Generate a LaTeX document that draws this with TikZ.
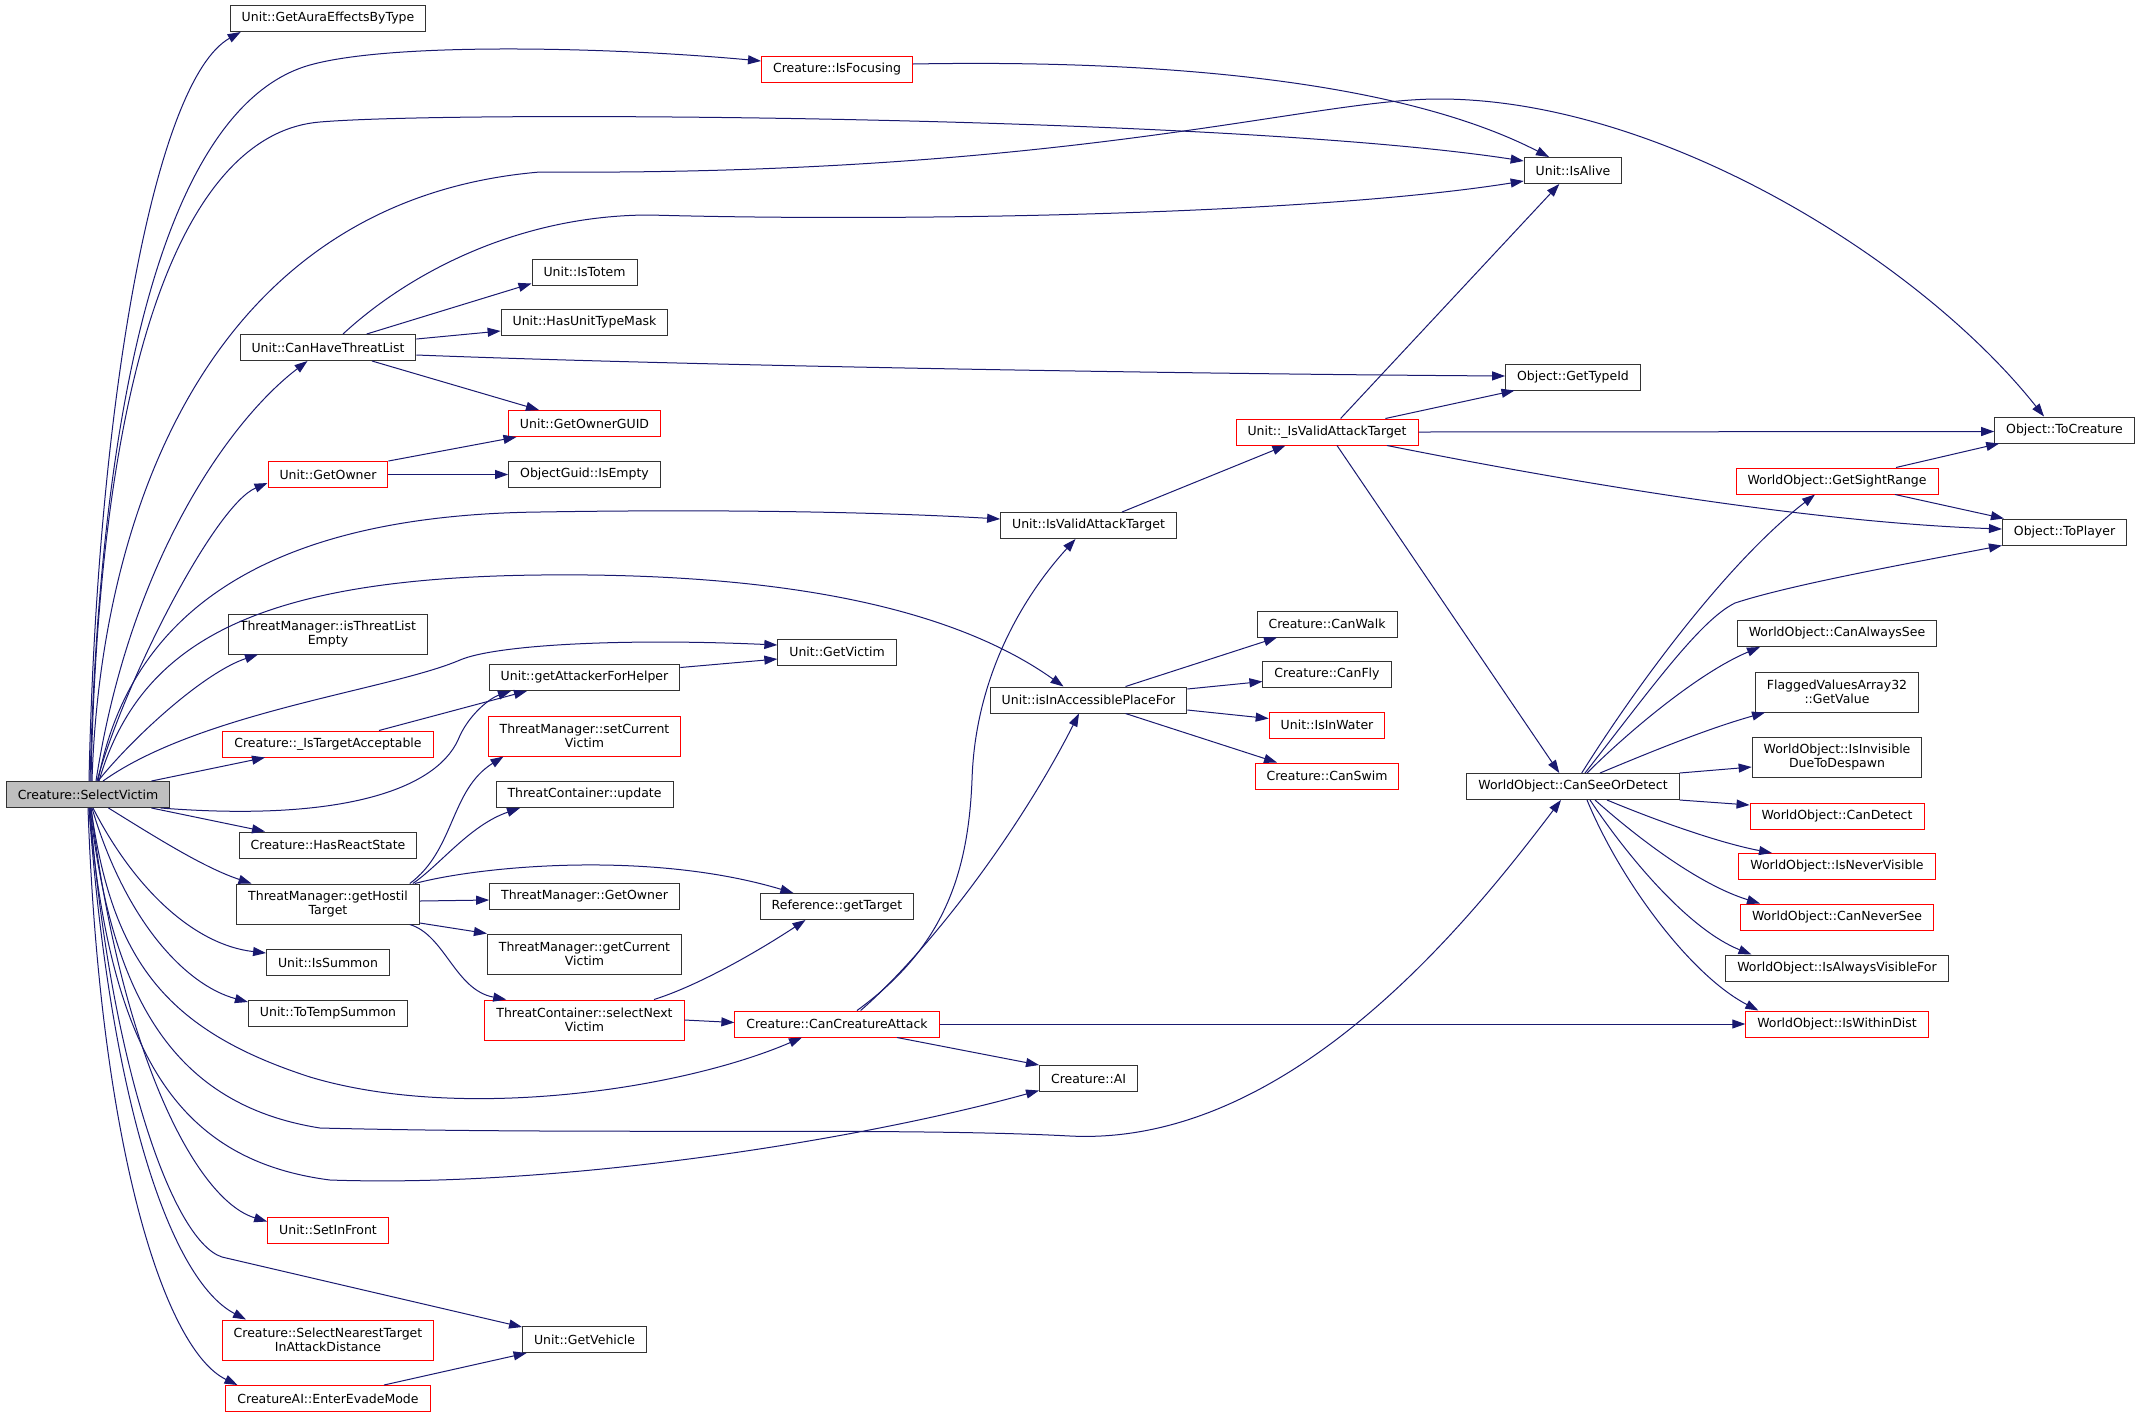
\documentclass[tikz,border=0pt]{standalone}
\usepackage{fontspec}
\setmainfont{DejaVu Sans}
\usetikzlibrary{arrows.meta, positioning}

\definecolor{edgeblue}{HTML}{191970}
\definecolor{rootgray}{HTML}{BFBFBF}

\begin{document}
\begin{tikzpicture}[x = 1pt, y = -1pt,
    fn/.style={draw=black!80, fill=white, line width=1pt, inner xsep=11.5pt, inner ysep=2pt,
        minimum height=26pt, align=center, font=\fontsize{12.5}{14.3}\selectfont},
    fnred/.style={fn, draw=red},
    fnroot/.style={fn, fill=rootgray},
    twolines/.style={minimum height=40pt},
    call/.style={color=edgeblue, line width=1pt, -{Triangle[length=13pt, width=9pt]}}]

        \path[fill=white] (0,0) rectangle (2140,1417);

        \node[fnroot] (selvictim) at (88,794.5) {Creature::SelectVictim};

        \foreach \n/\x/\y/\txt in {aura/328/18.5/Unit::GetAuraEffectsByType,
            alive/1573/170.5/Unit::IsAlive, tocre/2064.5/430/Object::ToCreature,
            haslist/328/347.5/Unit::CanHaveThreatList, totem/584.5/272/Unit::IsTotem,
            mask/584.5/322.5/Unit::HasUnitTypeMask, empty/584.5/474.5/ObjectGuid::IsEmpty,
            typeid/1573/377/Object::GetTypeId, toplayer/2064.5/532/Object::ToPlayer,
            valid/1088.5/525.5/Unit::IsValidAttackTarget, victim/837/652/Unit::GetVictim,
            helper/584.5/677.5/Unit::getAttackerForHelper, access/1088.5/700/Unit::isInAccessiblePlaceFor,
            walk/1327/624/Creature::CanWalk, fly/1327/674.5/Creature::CanFly,
            update/584.5/794.5/ThreatContainer::update, react/328/845/Creature::HasReactState,
            tmowner/584.5/896/ThreatManager::GetOwner, gettarget/837/906.5/Reference::getTarget,
            summon/328/962.5/Unit::IsSummon, tempsummon/328/1013/Unit::ToTempSummon,
            ai/1088.5/1078.5/Creature::AI, seeordetect/1573/786.5/WorldObject::CanSeeOrDetect,
            alwayssee/1837/633.5/WorldObject::CanAlwaysSee, alwaysvis/1837/968/WorldObject::IsAlwaysVisibleFor,
            vehicle/584.5/1339.5/Unit::GetVehicle}
        \node[fn] (\n) at (\x,\y) {\txt};

        \foreach \n/\x/\y/\txt in {focus/837/69.5/Creature::IsFocusing,
            guid/584.5/423.5/Unit::GetOwnerGUID, owner/328/474.5/Unit::GetOwner,
            ivalid/1327/432/Unit::\_IsValidAttackTarget, sight/1837/481/WorldObject::GetSightRange,
            water/1327/725/Unit::IsInWater, swim/1327/776/Creature::CanSwim,
            accept/328/744/Creature::\_IsTargetAcceptable, attack/837/1024/Creature::CanCreatureAttack,
            detect/1837/816/WorldObject::CanDetect, nevervis/1837/866.5/WorldObject::IsNeverVisible,
            neversee/1837/917/WorldObject::CanNeverSee, withindist/1837/1024/WorldObject::IsWithinDist,
            infront/328/1230/Unit::SetInFront, evade/328/1398.5/CreatureAI::EnterEvadeMode}
        \node[fnred] (\n) at (\x,\y) {\txt};

        \node[fn, twolines] (listempty) at (328,634) {ThreatManager::isThreatList\\Empty};
        \node[fn, twolines] (hostil) at (328,904) {ThreatManager::getHostil\\Target};
        \node[fn, twolines] (curvictim) at (584.5,954) {ThreatManager::getCurrent\\Victim};
        \node[fn, twolines] (flagged) at (1837,692) {FlaggedValuesArray32\\::GetValue};
        \node[fn, twolines] (despawn) at (1837,757) {WorldObject::IsInvisible\\DueToDespawn};
        \node[fnred, twolines] (setvictim) at (584.5,736) {ThreatManager::setCurrent\\Victim};
        \node[fnred, twolines] (nextvictim) at (584.5,1020) {ThreatContainer::selectNext\\Victim};
        \node[fnred, twolines] (nearest) at (328,1340) {Creature::SelectNearestTarget\\InAttackDistance};

        \draw[call] ([xshift=1pt]selvictim.north) .. controls (97,400) and (155,80) .. ([xshift=11pt]aura.south west);
        \draw[call] ([xshift=2pt]selvictim.north) .. controls (102,330) and (185,100) .. (310,65)
            .. controls (392,42) and (610,47) .. ([yshift=8.5pt]focus.west);
        \draw[call] ([xshift=3pt]selvictim.north) .. controls (100,330) and (195,132) .. (320,122)
            .. controls (460,110) and (1230,116) .. ([yshift=9.5pt]alive.west);
        \draw[call] ([xshift=4pt]selvictim.north) .. controls (100,520) and (205,200) .. (540,172)
            .. controls (1070,176) and (1310,99) .. (1439,99)
            .. controls (1660,99) and (1920,260) .. ([xshift=-20.5pt]tocre.north);
        \draw[call] ([xshift=8pt]selvictim.north) .. controls (130,560) and (230,420) .. ([xshift=-20.5pt]haslist.south);
        \draw[call] ([xshift=9pt]selvictim.north) .. controls (125,680) and (215,505) .. ([yshift=-8.5pt]owner.west);
        \draw[call] ([xshift=10pt]selvictim.north) .. controls (130,610) and (270,515) .. (540,512)
            .. controls (720,509) and (880,512) .. ([yshift=6.5pt]valid.west);
        \draw[call] ([xshift=11pt]selvictim.north) .. controls (140,640) and (260,578) .. (540,575)
            .. controls (820,572) and (970,620) .. ([xshift=-25pt]access.north);
        \draw[call] ([xshift=10pt]selvictim.north) .. controls (135,735) and (205,672) .. ([xshift=-70pt]listempty.south);
        \draw[call] ([xshift=15pt]selvictim.north) .. controls (200,712) and (390,690) .. (460,660)
            .. controls (495,645) and (620,638) .. ([yshift=7pt]victim.west);
        \draw[call] ([xshift=63.5pt]selvictim.north) -- ([xshift=-63pt]accept.south);
        \draw[call] ([xshift=-9.5pt]selvictim.south east) .. controls (340,822) and (435,790) .. (458,740)
            .. controls (468,715) and (490,698) .. ([xshift=-73.5pt]helper.south);
        \draw[call] ([xshift=63.5pt]selvictim.south) -- ([xshift=-63pt]react.north);
        \draw[call] ([xshift=20.5pt]selvictim.south) .. controls (160,840) and (205,868) .. ([xshift=-76.5pt]hostil.north);
        \draw[call] ([xshift=5pt]selvictim.south) .. controls (135,890) and (195,945) .. ([yshift=9.5pt]summon.west);
        \draw[call] ([xshift=4pt]selvictim.south) .. controls (125,920) and (185,985) .. ([yshift=11pt]tempsummon.west);
        \draw[call] ([xshift=3pt]selvictim.south) .. controls (112,960) and (165,1030) .. (310,1077)
            .. controls (460,1122) and (680,1090) .. ([xshift=-35pt]attack.south);
        \draw[call] ([xshift=2pt]selvictim.south) .. controls (112,1000) and (175,1105) .. (320,1128)
            .. controls (600,1135) and (900,1127) .. (1070,1136)
            .. controls (1290,1147) and (1470,920) .. ([xshift=-12pt]seeordetect.south);
        \draw[call] ([xshift=1pt]selvictim.south) .. controls (110,1050) and (175,1160) .. (330,1180)
            .. controls (560,1188) and (860,1140) .. ([yshift=-12pt]ai.west);
        \draw[call] ([xshift=3pt]selvictim.south) .. controls (120,1050) and (195,1200) .. ([yshift=8.5pt]infront.west);
        \draw[call] ([xshift=2pt]selvictim.south) .. controls (108,1050) and (170,1240) .. (222,1257)
            -- ([yshift=-1pt]vehicle.north west);
        \draw[call] ([xshift=1pt]selvictim.south) .. controls (110,1100) and (170,1280) .. ([xshift=-82pt]nearest.north);
        \draw[call] (selvictim.south) .. controls (100,1150) and (165,1350) .. ([xshift=-90.5pt]evade.north);

        \draw[call] ([yshift=5.5pt]focus.east) .. controls (1130,60) and (1390,75) .. ([xshift=-24pt]alive.north);
        \draw[call] ([xshift=15pt]haslist.north) .. controls (410,272) and (520,215) .. (650,215)
            .. controls (900,222) and (1310,215) .. ([yshift=-10.5pt]alive.west);
        \draw[call] ([xshift=38.7pt]haslist.north) -- ([yshift=2pt]totem.south west);
        \draw[call] ([yshift=8.5pt]haslist.east) -- ([yshift=-8.5pt]mask.west);
        \draw[call] ([yshift=-7.5pt]haslist.east) .. controls (700,366) and (1200,374) .. ([yshift=1pt]typeid.west);
        \draw[call] ([xshift=44pt]haslist.south) -- ([xshift=-45.5pt]guid.north);
        \draw[call] (owner.north east) -- ([xshift=-68pt]guid.south);
        \draw[call] (owner.east) -- (empty.west);

        \draw[call] ([xshift=13.6pt]ivalid.north) -- ([xshift=-13.7pt]alive.south);
        \draw[call] ([xshift=58.4pt]ivalid.north) -- ([xshift=-58.5pt]typeid.south);
        \draw[call] (ivalid.east) -- ([yshift=-1.5pt]tocre.west);
        \draw[call] ([xshift=60pt]ivalid.south) .. controls (1550,478) and (1800,522) .. ([yshift=3pt]toplayer.west);
        \draw[call] ([xshift=10pt]ivalid.south) -- ([xshift=-13.7pt]seeordetect.north);
        \draw[call] ([xshift=33.5pt]valid.north) -- ([xshift=-41.5pt]ivalid.south);
        \draw[call] ([xshift=59pt]sight.north) -- ([xshift=5pt]tocre.south west);
        \draw[call] ([xshift=58pt]sight.south) -- ([xshift=2pt]toplayer.north west);

        \draw[call] ([xshift=8.7pt]seeordetect.north) .. controls (1640,680) and (1730,560) .. ([xshift=-22pt]sight.south);
        \draw[call] ([xshift=12pt]seeordetect.north) .. controls (1650,690) and (1700,620) .. (1735,603)
            .. controls (1790,585) and (1900,565) .. (toplayer.south west);
        \draw[call] ([xshift=14pt]seeordetect.north) .. controls (1630,730) and (1700,672) .. ([xshift=-77pt]alwayssee.south);
        \draw[call] ([xshift=27pt]seeordetect.north) .. controls (1660,748) and (1710,728) .. ([xshift=-72pt]flagged.south);
        \draw[call] (seeordetect.north east) -- ([yshift=-10pt]despawn.west);
        \draw[call] (seeordetect.south east) -- ([yshift=11pt]detect.west);
        \draw[call] ([xshift=34pt]seeordetect.south) .. controls (1660,822) and (1720,843) .. ([xshift=-65pt]nevervis.north);
        \draw[call] ([xshift=22pt]seeordetect.south) .. controls (1640,840) and (1700,885) .. ([xshift=-77pt]neversee.north);
        \draw[call] ([xshift=17pt]seeordetect.south) .. controls (1630,860) and (1690,930) .. ([xshift=-85.5pt]alwaysvis.north);
        \draw[call] ([xshift=14pt]seeordetect.south) .. controls (1620,880) and (1690,975) .. ([xshift=-78.6pt]withindist.north);

        \draw[call] (attack.east) -- (withindist.west);
        \draw[call] ([xshift=60pt]attack.south) -- (ai.north west);
        \draw[call] ([xshift=20pt]attack.north) .. controls (940,950) and (968,880) .. (972,780)
            .. controls (975,680) and (1020,600) .. ([xshift=-13pt]valid.south);
        \draw[call] ([xshift=23.6pt]attack.north) .. controls (930,950) and (1020,830) .. ([xshift=-9.5pt]access.south);
        \draw[call] ([xshift=37pt]access.north) -- ([xshift=-50pt]walk.south);
        \draw[call] ([yshift=11pt]access.east) -- ([yshift=-7pt]fly.west);
        \draw[call] ([yshift=-10pt]access.east) -- ([yshift=6.5pt]water.west);
        \draw[call] ([xshift=37pt]access.south) -- ([xshift=-50pt]swim.north);

        \draw[call] ([yshift=10pt]helper.east) -- ([yshift=-7pt]victim.west);
        \draw[call] ([xshift=51pt]accept.north) -- ([xshift=-57.5pt]helper.south);
        \draw[call] ([xshift=-10pt]hostil.north east) .. controls (455,850) and (450,790) .. ([xshift=-81pt]setvictim.south);
        \draw[call] ([xshift=-7pt]hostil.north east) .. controls (440,865) and (470,825) .. ([xshift=-64.5pt]update.south);
        \draw[call] ([xshift=-5pt]hostil.north east) .. controls (480,866) and (650,850) .. ([xshift=-43.6pt]gettarget.north);
        \draw[call] ([yshift=3pt]hostil.east) -- ([yshift=-4pt]tmowner.west);
        \draw[call] ([yshift=-19pt]hostil.east) -- (curvictim.north west);
        \draw[call] ([xshift=-10pt]hostil.south east) .. controls (445,935) and (455,990) .. ([xshift=-78.3pt]nextvictim.north);
        \draw[call] (nextvictim.east) -- ([yshift=1.5pt]attack.west);
        \draw[call] ([xshift=69.5pt]nextvictim.north) .. controls (700,985) and (760,950) .. ([xshift=-31.5pt]gettarget.south);
        \draw[call] ([xshift=56pt]evade.north) -- ([xshift=4.5pt]vehicle.south west);

\end{tikzpicture}
\end{document}
